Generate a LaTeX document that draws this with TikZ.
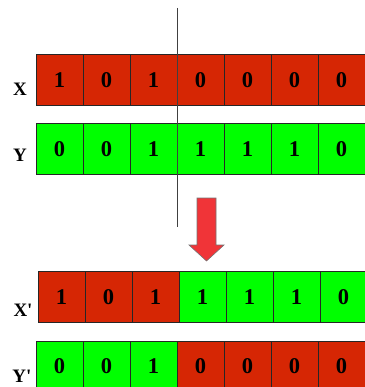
\documentclass[tikz,border=0pt]{standalone}
\usepackage{xcolor}
\usepackage{tikz}
\usepackage{fontspec}
\setmainfont{Liberation Serif}
\definecolor{genred}{RGB}{214,38,4}
\definecolor{gengreen}{RGB}{0,255,0}
\definecolor{arrowred}{RGB}{240,52,56}

\begin{document}
\begin{tikzpicture}[x=1pt,y=-1pt]
        % Define styles
        \tikzset{
            bit/.style={rectangle, draw=black!85, line width=1pt, minimum width=47pt, minimum height=51pt, inner sep=0pt, font=\fontsize{22.5}{26}\selectfont\bfseries},
            red_bit/.style={bit, fill=genred},
            green_bit/.style={bit, fill=gengreen},
            row_label/.style={font=\fontsize{19}{22}\selectfont\bfseries}
        }
        \useasboundingbox (0,0) rectangle (364.5,387);

        % Parent X
        \node[row_label] (label_x) at (20,89) {X};
        \node[red_bit] (bit_x_1) at (59.5,80.5) {1};
        \node[red_bit] (bit_x_2) at (106.5,80.5) {0};
        \node[red_bit] (bit_x_3) at (153.5,80.5) {1};
        \node[red_bit] (bit_x_4) at (200.5,80.5) {0};
        \node[red_bit] (bit_x_5) at (247.5,80.5) {0};
        \node[red_bit] (bit_x_6) at (294.5,80.5) {0};
        \node[red_bit] (bit_x_7) at (341.5,80.5) {0};

        % Parent Y
        \node[row_label] (label_y) at (20,155) {Y};
        \node[green_bit] (bit_y_1) at (59.5,149) {0};
        \node[green_bit] (bit_y_2) at (106.5,149) {0};
        \node[green_bit] (bit_y_3) at (153.5,149) {1};
        \node[green_bit] (bit_y_4) at (200.5,149) {1};
        \node[green_bit] (bit_y_5) at (247.5,149) {1};
        \node[green_bit] (bit_y_6) at (294.5,149) {1};
        \node[green_bit] (bit_y_7) at (341.5,149) {0};

        % Crossover point
        \coordinate (cut_top) at (177,8);
        \coordinate (cut_bottom) at (177,227);
        \draw[black!75, line width=0.8pt] (cut_top) -- (cut_bottom);

        % Arrow
        \draw[fill=arrowred, draw=black!55, line width=0.6pt]
            (197,198) -- (216,198) -- (216,245) -- (224,245) -- (206.5,261)
            -- (189,245) -- (197,245) -- cycle;

        % Child X'
        \node[row_label] (label_xc) at (23,310) {X\textquotesingle};
        \node[red_bit] (bit_xc_1) at (61.5,297) {1};
        \node[red_bit] (bit_xc_2) at (108.5,297) {0};
        \node[red_bit] (bit_xc_3) at (155.5,297) {1};
        \node[green_bit] (bit_xc_4) at (202.5,297) {1};
        \node[green_bit] (bit_xc_5) at (249.5,297) {1};
        \node[green_bit] (bit_xc_6) at (296.5,297) {1};
        \node[green_bit] (bit_xc_7) at (343.5,297) {0};

        % Child Y'
        \node[row_label] (label_yc) at (22,376) {Y\textquotesingle};
        \node[green_bit] (bit_yc_1) at (59.5,366.5) {0};
        \node[green_bit] (bit_yc_2) at (106.5,366.5) {0};
        \node[green_bit] (bit_yc_3) at (153.5,366.5) {1};
        \node[red_bit] (bit_yc_4) at (200.5,366.5) {0};
        \node[red_bit] (bit_yc_5) at (247.5,366.5) {0};
        \node[red_bit] (bit_yc_6) at (294.5,366.5) {0};
        \node[red_bit] (bit_yc_7) at (341.5,366.5) {0};
    \end{tikzpicture}
\end{document}
